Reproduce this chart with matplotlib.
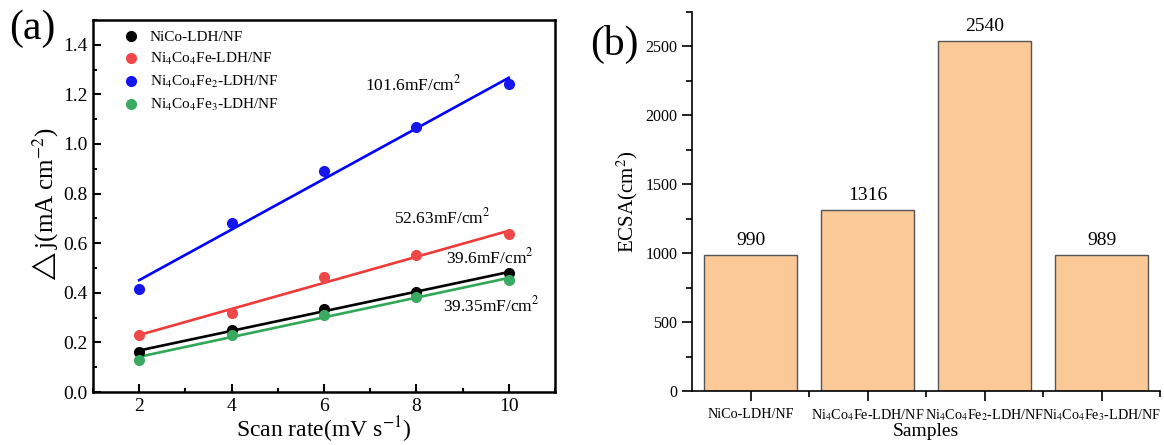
import matplotlib
matplotlib.use("Agg")
import matplotlib.pyplot as plt
import numpy as np
from matplotlib.ticker import MultipleLocator

plt.rcParams['font.family'] = ['Liberation Serif', 'DejaVu Sans']
plt.rcParams['mathtext.fontset'] = 'stix'

# --- данные (a): Δj vs scan rate ---
scan_rate = [2, 4, 6, 8, 10]
dj_nico = [0.160, 0.250, 0.335, 0.405, 0.478]
dj_fe1 = [0.228, 0.320, 0.462, 0.553, 0.637]
dj_fe2 = [0.415, 0.680, 0.890, 1.070, 1.240]
dj_fe3 = [0.130, 0.230, 0.310, 0.385, 0.450]
series_names = ["NiCo-LDH/NF", "Ni$_4$Co$_4$Fe-LDH/NF",
                "Ni$_4$Co$_4$Fe$_2$-LDH/NF", "Ni$_4$Co$_4$Fe$_3$-LDH/NF"]
cdl_labels = ["39.6mF/cm$^2$", "52.63mF/cm$^2$", "101.6mF/cm$^2$", "39.35mF/cm$^2$"]

# --- данные (b): ECSA ---
samples = ["NiCo-LDH/NF", "Ni$_4$Co$_4$Fe-LDH/NF",
           "Ni$_4$Co$_4$Fe$_2$-LDH/NF", "Ni$_4$Co$_4$Fe$_3$-LDH/NF"]
ecsa = [990, 1316, 2540, 989]

fig = plt.figure(figsize=(11.64, 4.45), dpi=100)

# ---------- (a) ----------
ax1 = fig.add_axes([0.0799, 0.1191, 0.3969, 0.836])
pt_colors = ["black", "#f04848", "#1515f0", "#3aaa62"]
ln_colors = ["black", "#f03a3a", "#0000ff", "#30a858"]
all_dj = [dj_nico, dj_fe1, dj_fe2, dj_fe3]
x = np.array(scan_rate)
for dj, name, pc, lc in zip(all_dj, series_names, pt_colors, ln_colors):
    k, b = np.polyfit(x, dj, 1)
    ax1.plot(x, k * x + b, color=lc, lw=1.9, zorder=2)
    ax1.plot(x, dj, 'o', ms=7, color=pc, label=name, zorder=3, linestyle='none')

# подписи C_dl
label_pos = [(8.64, 0.543), (7.51, 0.703), (6.89, 1.239), (8.57, 0.348)]
for txt, (tx, ty) in zip(cdl_labels, label_pos):
    ax1.text(tx, ty, txt, fontsize=12.5, va='center', ha='left')

ax1.set_xlim(1, 11)
ax1.set_ylim(0, 1.5)
ax1.xaxis.set_minor_locator(MultipleLocator(1))
ax1.yaxis.set_minor_locator(MultipleLocator(0.1))
ax1.set_yticks(np.arange(0, 1.41, 0.2))
ax1.set_xticks([2, 4, 6, 8, 10])
ax1.yaxis.set_major_formatter(plt.FormatStrFormatter('%.1f'))
ax1.tick_params(which='major', direction='in', length=6, width=1.5, labelsize=14, pad=4)
ax1.tick_params(which='minor', direction='in', length=3, width=1.5)
for sp in ax1.spines.values():
    sp.set_linewidth(1.8)
ax1.set_xlabel("Scan rate(mV s$^{-1}$)", fontsize=17, labelpad=0)
ax1.set_ylabel("$\\triangle$j(mA cm$^{-2}$)", fontsize=18, labelpad=2)
leg = ax1.legend(loc='upper left', frameon=False, fontsize=11, handletextpad=0.6,
                 labelspacing=0.45, borderaxespad=0.3, handlelength=1.2,
                 bbox_to_anchor=(0.04, 1.0))
fig.text(0.008, 0.935, "(a)", fontsize=30, va='center', ha='left')

# ---------- (b) ----------
ax2 = fig.add_axes([0.5945, 0.1213, 0.4021, 0.852])
pos = np.arange(1, len(samples) + 1)
ax2.bar(pos, ecsa, width=0.8, color="#fbc898", edgecolor="#555555", linewidth=1.0)
for p, v in zip(pos, ecsa):
    ax2.text(p, v + 40, str(v), ha='center', va='bottom', fontsize=14)
ax2.set_xlim(0.5, 4.5)
ax2.set_ylim(0, 2750)
ax2.set_xticks(pos)
ax2.set_xticks([1.5, 2.5, 3.5, 4.5], minor=True)
ax2.yaxis.set_major_locator(MultipleLocator(500))
ax2.yaxis.set_minor_locator(MultipleLocator(250))
ax2.tick_params(which='major', direction='out', length=7, width=1.2)
ax2.tick_params(which='minor', direction='out', length=4, width=1.2)
ax2.tick_params(axis='y', labelsize=11.5)
ax2.tick_params(axis='x', which='major', pad=5)
ax2.set_xticklabels(samples, fontsize=10.2)
ax2.spines['top'].set_visible(False)
ax2.spines['right'].set_visible(False)
for sp in ('left', 'bottom'):
    ax2.spines[sp].set_linewidth(1.2)
ax2.set_xlabel("Samples", fontsize=14, labelpad=0)
ax2.set_ylabel("ECSA(cm$^2$)", fontsize=15)
fig.text(0.507, 0.9, "(b)", fontsize=30, va='center', ha='left')

fig.savefig("out.png", dpi=100)
